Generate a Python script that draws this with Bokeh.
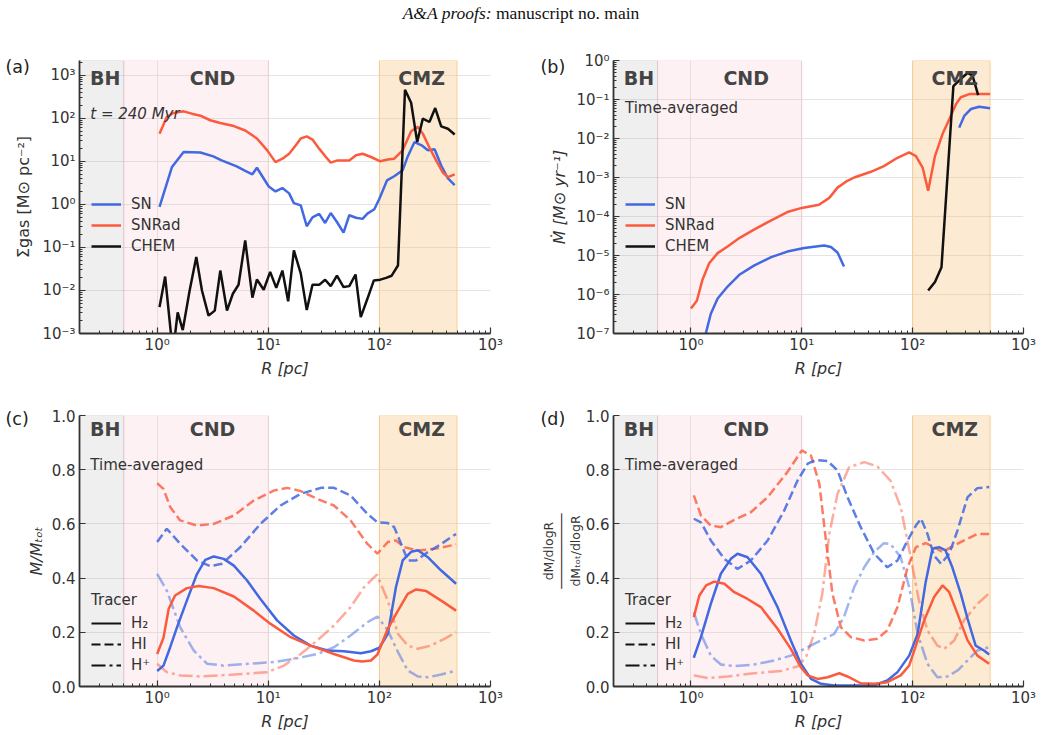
from bokeh.plotting import figure
from bokeh.models import (BoxAnnotation, Label, Legend, LegendItem, FixedTicker,
                          CustomJSTickFormatter, PrintfTickFormatter, Div, Range1d)
from bokeh.layouts import gridplot, column
from bokeh.embed import file_html
from bokeh.resources import INLINE

NAN = float("nan")

# ---------------- data ----------------
# Panel (a): surface density Sigma_gas [Msun pc^-2] vs R [pc]
a_sn_R = [1.05, 1.36, 1.73, 2.45, 3.2, 3.8, 5.2, 6.2, 7.2, 7.9, 10.1, 11.6, 13.4, 15.4, 17, 19.6, 22.2, 25, 28.7, 32.5,
          36.5, 41.5, 47.6, 53.6, 61.6, 70.6, 78, 90, 100, 117, 136, 162, 180, 207, 240, 273, 314, 360, 414, 476]
a_sn = [0.87, 7.4, 16.5, 16, 13, 10.5, 7.6, 6, 5, 7.1, 2.6, 2.0, 2.4, 1.8, 1.07, 0.95, 0.31, 0.5, 0.6, 0.37,
        0.63, 0.39, 0.22, 0.56, 0.49, 0.46, 0.61, 0.77, 1.35, 3.6, 4.5, 6.2, 13, 28, 23.6, 18, 19, 8, 4, 2.8]
a_snrad_R = [1.05, 1.22, 1.4, 1.73, 2.05, 2.45, 3.0, 3.7, 4.9, 6.2, 7.9, 9.8, 11.6, 13.4, 15.4, 17.7, 19.6, 22.2, 25, 28.7,
             33, 36.5, 42, 53.6, 61.6, 70.6, 84, 102, 119, 136, 162, 193, 222, 246, 282, 324, 372, 414, 476]
a_snrad = [44, 107, 133, 145, 128, 115, 90, 78, 66, 52, 34, 18, 9.6, 11.5, 15, 23.6, 34, 38, 32, 19.7,
           12.6, 9.3, 10.5, 10.5, 13.8, 15, 12.6, 10, 11, 11.5, 18, 50, 63, 44, 21, 10.5, 5.5, 4.3, 5]
a_chem_R = [1.05, 1.18, 1.33, 1.42, 1.53, 1.70, 1.96, 2.25, 2.53, 2.9, 3.3, 3.7, 4.25, 4.8, 5.4, 6.2, 7.2, 7.9, 9.1, 10.4,
            11.8, 13.4, 15.1, 17.0, 19.6, 22.2, 25, 28.7, 32.5, 36.5, 41.5, 47.6, 53.6, 61, 68, 78, 89, 102, 115, 129,
            147, 170, 193, 219, 246, 282, 318, 360, 414, 476]
a_chem = [0.0041, 0.021, 0.001, 0.0006, 0.0031, 0.0012, 0.01, 0.06, 0.01, 0.0026, 0.0034, 0.029, 0.0034, 0.0084, 0.0136,
          0.145, 0.0068, 0.018, 0.0104, 0.027, 0.0115, 0.029, 0.0056, 0.085, 0.025, 0.0035, 0.0136, 0.0135, 0.0177,
          0.0126, 0.022, 0.012, 0.0126, 0.0235, 0.0024, 0.0064, 0.017, 0.0178, 0.0196, 0.022, 0.038, 460, 229, 28, 98,
          82, 173, 65, 57, 42]

# Panel (b): mass inflow rate [Msun/yr]
b_snrad_R = [1.0, 1.13, 1.27, 1.46, 1.74, 2.14, 2.73, 3.7, 5.3, 7.4, 10, 14.3, 17.7, 21, 25, 29.7, 42, 55, 73, 93,
             107, 123, 138, 159, 186, 214, 246, 272, 324, 412, 500]
b_snrad = [4.4e-7, 6.9e-7, 2.4e-6, 6.3e-6, 1.15e-5, 1.7e-5, 2.8e-5, 4.6e-5, 8e-5, 1.3e-4, 1.66e-4, 2.0e-4, 3e-4, 5.5e-4,
           7.8e-4, 1.0e-3, 1.4e-3, 1.95e-3, 3.2e-3, 4.4e-3, 3.55e-3, 1.8e-3, 4.6e-4, 3.55e-3, 1.3e-2, 3.1e-2, 7.6e-2,
           0.114, 0.138, 0.138, 0.138]
b_sn_in_R = [1.3, 1.36, 1.51, 1.74, 2.14, 2.73, 3.7, 5.3, 7.4, 10.5, 15.9, 18.3, 21, 24]
b_sn_in = [6e-8, 1e-7, 3.2e-7, 7.9e-7, 1.6e-6, 3.2e-6, 5.5e-6, 9.1e-6, 1.26e-5, 1.55e-5, 1.8e-5, 1.65e-5, 1.2e-5, 5.2e-6]
b_sn_out_R = [263, 292, 335, 398, 500]
b_sn_out = [1.9e-2, 3.8e-2, 5.7e-2, 6.5e-2, 6.0e-2]
b_chem_R = [138, 159, 182, 233, 272, 313, 347, 390]
b_chem = [1.26e-6, 2.1e-6, 5e-6, 0.22, 0.34, 0.48, 0.41, 0.13]

# Panel (c): M/Mtot per tracer
c_sn_h2_R = [1.0, 1.14, 1.31, 1.51, 1.85, 2.28, 2.71, 3.23, 3.97, 4.9, 6.45, 8.5, 12, 17, 24, 34, 48, 68, 84, 100,
             119, 141, 162, 193, 222, 273, 360, 490]
c_sn_h2 = [0.057, 0.077, 0.145, 0.219, 0.317, 0.415, 0.467, 0.48, 0.471, 0.446, 0.391, 0.323, 0.244, 0.188, 0.151,
           0.133, 0.130, 0.123, 0.130, 0.143, 0.194, 0.367, 0.465, 0.497, 0.503, 0.477, 0.428, 0.379]
c_snrad_h2_R = [1.0, 1.14, 1.27, 1.45, 1.85, 2.36, 3.23, 4.9, 7.4, 10.5, 15.9, 24, 39, 59, 70, 84, 96, 119, 147, 180,
                214, 264, 360, 490]
c_snrad_h2 = [0.12, 0.18, 0.287, 0.336, 0.363, 0.371, 0.363, 0.332, 0.28, 0.231, 0.182, 0.151, 0.12, 0.096, 0.092,
              0.096, 0.118, 0.213, 0.28, 0.342, 0.358, 0.352, 0.317, 0.28]
c_sn_hi_R = [1.0, 1.22, 1.61, 2.28, 3.0, 3.83, 5.6, 8.5, 12.9, 19.6, 29.7, 39, 55, 78, 96, 119, 136, 157, 180, 214,
             264, 360, 490]
c_sn_hi = [0.533, 0.582, 0.527, 0.465, 0.444, 0.453, 0.514, 0.60, 0.668, 0.711, 0.733, 0.733, 0.705, 0.637, 0.606,
           0.603, 0.588, 0.526, 0.465, 0.465, 0.492, 0.526, 0.563]
c_snrad_hi_R = [1.0, 1.14, 1.31, 1.61, 2.28, 3.23, 4.9, 7.4, 11.2, 14.8, 19.6, 27.6, 39, 55, 78, 96, 119, 141, 167,
                222, 314, 490]
c_snrad_hi = [0.75, 0.729, 0.662, 0.613, 0.594, 0.60, 0.631, 0.686, 0.723, 0.733, 0.721, 0.692, 0.668, 0.613, 0.526,
              0.49, 0.533, 0.539, 0.514, 0.502, 0.508, 0.524]
c_sn_hp_R = [1.0, 1.22, 1.61, 2.13, 2.81, 3.97, 6.9, 11.2, 17, 27.6, 39, 55, 78, 96, 119, 147, 180, 222, 273, 360, 490]
c_sn_hp = [0.416, 0.354, 0.219, 0.133, 0.084, 0.077, 0.084, 0.09, 0.102, 0.12, 0.145, 0.188, 0.237, 0.258, 0.207,
           0.127, 0.059, 0.037, 0.034, 0.044, 0.059]
c_snrad_hp_R = [1.0, 1.22, 1.61, 2.45, 4.9, 9.8, 13.8, 19.6, 27.6, 39, 55, 73, 95, 119, 147, 180, 222, 292, 385, 490]
c_snrad_hp = [0.084, 0.053, 0.041, 0.037, 0.044, 0.053, 0.077, 0.12, 0.17, 0.225, 0.293, 0.367, 0.413, 0.317, 0.194,
              0.151, 0.139, 0.151, 0.176, 0.20]

# Panel (d): (dM/dlogR)/(dMtot/dlogR) per tracer
d_sn_h2_R = [1.06, 1.23, 1.51, 1.86, 2.29, 2.63, 3.24, 4.27, 6.04, 7.96, 9.8, 12.1, 14.9, 19.6, 29.7, 45, 59, 73, 93,
             111, 131, 151, 173, 198, 228, 272, 313, 370, 440, 490]
d_sn_h2 = [0.106, 0.182, 0.305, 0.416, 0.471, 0.49, 0.477, 0.416, 0.293, 0.17, 0.084, 0.028, 0.01, 0.004, 0.004, 0.004,
           0.022, 0.053, 0.114, 0.194, 0.385, 0.508, 0.514, 0.502, 0.44, 0.342, 0.25, 0.151, 0.133, 0.118]
d_snrad_h2_R = [1.06, 1.19, 1.37, 1.62, 2.0, 2.46, 3.24, 4.27, 6.04, 7.96, 9.8, 11.3, 13.9, 17.1, 21.8, 25.8, 34, 45,
                59, 78, 93, 107, 127, 156, 186, 214, 254, 313, 384, 490]
d_snrad_h2 = [0.256, 0.336, 0.373, 0.387, 0.379, 0.348, 0.323, 0.293, 0.213, 0.139, 0.071, 0.041, 0.028, 0.034, 0.049,
              0.037, 0.012, 0.01, 0.016, 0.041, 0.077, 0.151, 0.244, 0.33, 0.373, 0.348, 0.268, 0.17, 0.114, 0.084]
d_sn_hi_R = [1.06, 1.23, 1.51, 2.0, 2.63, 3.47, 4.92, 6.93, 9.15, 11.3, 13.4, 17.1, 21, 25.8, 34, 45, 59, 73, 90, 107,
             119, 136, 156, 180, 214, 254, 313, 384, 490]
d_sn_hi = [0.619, 0.606, 0.539, 0.471, 0.434, 0.465, 0.539, 0.649, 0.76, 0.822, 0.836, 0.832, 0.797, 0.699, 0.588,
           0.49, 0.44, 0.465, 0.539, 0.594, 0.619, 0.563, 0.483, 0.453, 0.49, 0.576, 0.699, 0.732, 0.736]
d_snrad_hi_R = [1.06, 1.23, 1.51, 1.86, 2.46, 3.47, 4.92, 7.4, 10, 12.1, 14.4, 16.5, 18.9, 22.5, 27.7, 36.6, 48, 59, 73,
                90, 107, 131, 156, 186, 222, 291, 384, 490]
d_snrad_hi = [0.705, 0.631, 0.594, 0.588, 0.615, 0.643, 0.699, 0.791, 0.871, 0.852, 0.748, 0.539, 0.342, 0.219, 0.182,
              0.17, 0.176, 0.207, 0.293, 0.44, 0.514, 0.529, 0.514, 0.496, 0.514, 0.539, 0.563, 0.563]
d_sn_hp_R = [1.06, 1.23, 1.51, 1.86, 2.46, 3.72, 5.6, 7.96, 11.3, 14.9, 19.6, 24, 29.7, 36.6, 45, 55, 63, 78, 93, 111,
             136, 167, 206, 254, 313, 384, 490]
d_sn_hp = [0.274, 0.194, 0.114, 0.081, 0.075, 0.081, 0.096, 0.114, 0.145, 0.17, 0.194, 0.256, 0.367, 0.44, 0.496,
           0.529, 0.526, 0.477, 0.367, 0.194, 0.084, 0.034, 0.037, 0.059, 0.096, 0.133, 0.145]
d_snrad_hp_R = [1.06, 1.41, 2.14, 3.72, 6.47, 9.15, 10.9, 12.9, 15.3, 17.7, 21, 26.7, 36.6, 48, 63, 78, 96, 114, 136,
                167, 193, 237, 291, 384, 490]
d_snrad_hp = [0.041, 0.031, 0.037, 0.049, 0.057, 0.074, 0.108, 0.194, 0.342, 0.563, 0.711, 0.809, 0.828, 0.812, 0.76,
              0.662, 0.477, 0.317, 0.207, 0.151, 0.139, 0.17, 0.244, 0.305, 0.344]

# regions [pc]
regions = {"BH": (0.2, 0.5), "CND": (0.5, 10), "CMZ": (100, 500)}
region_label_x = {"BH": 0.34, "CND": 3.15, "CMZ": 240}
x_major = [1, 10, 100, 1000]

# ---------------- style ----------------
BLUE = "#4169e1"
RED = "#fc5a3d"
INK = "#333333"
FONT = "DejaVu Sans"
LW = 2.5
DASH_HI = "9 4"
DASH_HP = "14 4 3 4"


def log_minors(k0, k1):
    return [m * 10.0 ** k for k in range(k0, k1) for m in range(2, 10)]


sup_fmt_code = """
const e = Math.round(Math.log10(tick));
const m = {'-':'\u207b','0':'\u2070','1':'\u00b9','2':'\u00b2','3':'\u00b3','4':'\u2074','5':'\u2075','6':'\u2076','7':'\u2077','8':'\u2078','9':'\u2079'};
return '10' + String(e).split('').map(c => m[c]).join('');
"""


def make_fig(ylog, yr, yticks, yminor, fw, fh, ml, mr, mt, mb, ylabel, ylabel_size="16px",
             ylabel_style="italic", ylabel_standoff=6):
    p = figure(x_axis_type="log", y_axis_type="log" if ylog else "linear",
               x_range=Range1d(0.2, 1000), y_range=Range1d(*yr),
               frame_width=fw, frame_height=fh,
               min_border_left=ml, min_border_right=mr, min_border_top=mt, min_border_bottom=mb,
               output_backend="svg", toolbar_location=None)
    p.outline_line_color = None
    p.background_fill_color = "white"
    p.border_fill_color = "white"
    p.xaxis.ticker = FixedTicker(ticks=x_major, minor_ticks=log_minors(-1, 3))
    p.xaxis.formatter = CustomJSTickFormatter(code=sup_fmt_code)
    p.yaxis.ticker = FixedTicker(ticks=yticks, minor_ticks=yminor)
    if ylog:
        p.yaxis.formatter = CustomJSTickFormatter(code=sup_fmt_code)
    else:
        p.yaxis.formatter = PrintfTickFormatter(format="%.1f")
    for ax in (p.xaxis[0], p.yaxis[0]):
        ax.axis_line_color = INK
        ax.axis_line_width = 1.8
        ax.major_tick_line_color = INK
        ax.major_tick_line_width = 1.2
        ax.major_tick_in = 6
        ax.major_tick_out = 0
        ax.minor_tick_line_color = INK
        ax.minor_tick_line_width = 1
        ax.minor_tick_in = 3
        ax.minor_tick_out = 0
        ax.major_label_text_color = INK
        ax.major_label_text_font = FONT
        ax.major_label_text_font_size = "15px"
        ax.major_label_standoff = 4
        ax.axis_label_text_font = FONT
        ax.axis_label_text_color = INK
        ax.axis_label_text_font_size = "16px"
        ax.axis_label_standoff = 2
    p.xaxis.major_label_standoff = 2
    p.xaxis.axis_label = "R [pc]"
    p.xaxis.axis_label_text_font_style = "italic"
    p.yaxis.axis_label = ylabel
    p.yaxis.axis_label_text_font_size = ylabel_size
    p.yaxis.axis_label_text_font_style = ylabel_style
    p.yaxis.axis_label_standoff = ylabel_standoff
    p.xgrid.ticker = FixedTicker(ticks=x_major)
    p.ygrid.ticker = FixedTicker(ticks=yticks)
    for g in (p.xgrid[0], p.ygrid[0]):
        g.grid_line_color = "#e4e4e4"
        g.grid_line_width = 1
    shade = {"BH": ("#b0b0b0", 0.2), "CND": ("#f7b8c4", 0.2), "CMZ": ("#f8c47f", 0.35)}
    for name, (lo, hi) in regions.items():
        col, al = shade[name]
        p.add_layout(BoxAnnotation(left=lo, right=hi, fill_color=col, fill_alpha=al,
                                   line_color=col, line_alpha=min(1.0, al * 2.2), line_width=1,
                                   level="underlay"))
    return p


def region_labels(p, ysc):
    for name in regions:
        p.add_layout(Label(x=region_label_x[name], y=ysc, x_units="data", y_units="screen", text=name,
                           text_font=FONT, text_font_style="bold", text_font_size="19px",
                           text_color="#444444", text_align="center", text_baseline="middle"))


def note(p, x, ysc, text, style="normal"):
    p.add_layout(Label(x=x, y=ysc, x_units="data", y_units="screen", text=text, text_font=FONT,
                       text_font_size="15px", text_font_style=style, text_color=INK,
                       text_align="left", text_baseline="middle"))


def panel_tag(p, xsc, ysc, text):
    # placed in the panel above the frame so it can sit left of the y axis
    p.add_layout(Label(x=xsc, y=ysc, x_units="screen", y_units="screen", text=text, text_font=FONT,
                       text_font_size="17.5px", text_color="#222222", text_baseline="middle"), "above")


def mk_legend(items, loc, title=None):
    kw = dict(items=items, location=loc, orientation="vertical",
              background_fill_alpha=0, border_line_alpha=0,
              glyph_width=30, label_standoff=10, spacing=1,
              label_text_font=FONT, label_text_font_size="15px", label_text_color=INK)
    if title:
        kw.update(title=title, title_text_font=FONT, title_text_font_size="15px",
                  title_text_font_style="normal", title_text_color=INK, title_standoff=4)
    return Legend(**kw)


# ---------------- panel (a) ----------------
pa = make_fig(True, (1e-3, 2200), [10.0 ** k for k in range(-3, 4)], log_minors(-3, 4),
              411, 273, 79, 31, 30, 47, "Σgas [M⊙ pc⁻²]", ylabel_style="normal", ylabel_standoff=6)
ra1 = pa.line(a_sn_R, a_sn, color=BLUE, line_width=LW)
ra2 = pa.line(a_snrad_R, a_snrad, color=RED, line_width=LW)
ra3 = pa.line(a_chem_R, a_chem, color="#111111", line_width=LW)
region_labels(pa, 256)
note(pa, 0.25, 220, "t = 240 Myr", "italic")
panel_tag(pa, -74, -6, "(a)")
pa.add_layout(mk_legend([LegendItem(label="SN", renderers=[ra1]), LegendItem(label="SNRad", renderers=[ra2]),
                         LegendItem(label="CHEM", renderers=[ra3])], (2, 67)))

# ---------------- panel (b) ----------------
pb = make_fig(True, (1e-7, 1.0), [10.0 ** k for k in range(-7, 1)], log_minors(-7, 0),
              410, 273, 92, 19, 30, 47, "Ṁ [M⊙ yr⁻¹]", ylabel_standoff=4)
rb1 = pb.line(b_sn_in_R, b_sn_in, color=BLUE, line_width=LW)
pb.line(b_sn_out_R, b_sn_out, color=BLUE, line_width=LW)
rb2 = pb.line(b_snrad_R, b_snrad, color=RED, line_width=LW)
rb3 = pb.line(b_chem_R, b_chem, color="#111111", line_width=LW)
region_labels(pb, 256)
note(pb, 0.254, 226, "Time-averaged")
panel_tag(pb, -73, -6, "(b)")
pb.add_layout(mk_legend([LegendItem(label="SN", renderers=[rb1]), LegendItem(label="SNRad", renderers=[rb2]),
                         LegendItem(label="CHEM", renderers=[rb3])], (2, 67)))

# ---------------- panels (c), (d) ----------------
lin_ticks = [0.0, 0.2, 0.4, 0.6, 0.8, 1.0]


def tracer_panel(p, sets):
    for (xs, ys, col, dash, al) in sets:
        p.line(xs, ys, color=col, line_width=LW, line_dash=dash, line_alpha=al)
    # legend keys (style only, nothing drawn in the frame)
    k1 = p.line([NAN], [NAN], color="#111111", line_width=2)
    k2 = p.line([NAN], [NAN], color="#111111", line_width=2, line_dash=DASH_HI)
    k3 = p.line([NAN], [NAN], color="#111111", line_width=2, line_dash=DASH_HP)
    p.add_layout(mk_legend([LegendItem(label="H₂", renderers=[k1]), LegendItem(label="HI", renderers=[k2]),
                            LegendItem(label="H⁺", renderers=[k3])], (2, 1), title="Tracer"))


pc = make_fig(False, (0.0, 1.0), lin_ticks, [], 411, 271, 79, 31, 35, 49, "M/Mₜₒₜ", ylabel_standoff=3)
tracer_panel(pc, [
    (c_snrad_hp_R, c_snrad_hp, RED, DASH_HP, 0.5),
    (c_sn_hp_R, c_sn_hp, BLUE, DASH_HP, 0.5),
    (c_snrad_hi_R, c_snrad_hi, RED, DASH_HI, 0.8),
    (c_sn_hi_R, c_sn_hi, BLUE, DASH_HI, 0.85),
    (c_sn_h2_R, c_sn_h2, BLUE, "solid", 1.0),
    (c_snrad_h2_R, c_snrad_h2, RED, "solid", 1.0),
])
region_labels(pc, 258)
note(pc, 0.25, 222, "Time-averaged")
panel_tag(pc, -74, -3, "(c)")

pd = make_fig(False, (0.0, 1.0), lin_ticks, [], 410, 271, 92, 19, 35, 49,
              "dM/dlogR\n──────────\ndMₜₒₜ/dlogR", ylabel_size="12.5px", ylabel_style="normal",
              ylabel_standoff=0)
pd.yaxis.axis_label_text_line_height = 0.9
tracer_panel(pd, [
    (d_snrad_hp_R, d_snrad_hp, RED, DASH_HP, 0.5),
    (d_sn_hp_R, d_sn_hp, BLUE, DASH_HP, 0.5),
    (d_snrad_hi_R, d_snrad_hi, RED, DASH_HI, 0.8),
    (d_sn_hi_R, d_sn_hi, BLUE, DASH_HI, 0.85),
    (d_sn_h2_R, d_sn_h2, BLUE, "solid", 1.0),
    (d_snrad_h2_R, d_snrad_h2, RED, "solid", 1.0),
])
region_labels(pd, 258)
note(pd, 0.254, 222, "Time-averaged")
panel_tag(pd, -73, -3, "(d)")

header = Div(text='<div style="width:1042px;text-align:center;font-family:\'Liberation Serif\',serif;'
                  'font-size:17.5px;color:#111;padding-top:1px;"><i>A&amp;A proofs:</i> manuscript no. main</div>',
             width=1042, height=30, margin=(0, 0, 0, 0))

grid = gridplot([[pa, pb], [pc, pd]], toolbar_location=None)
layout = column(header, grid)

open("out.html", "w").write(file_html(layout, INLINE))
